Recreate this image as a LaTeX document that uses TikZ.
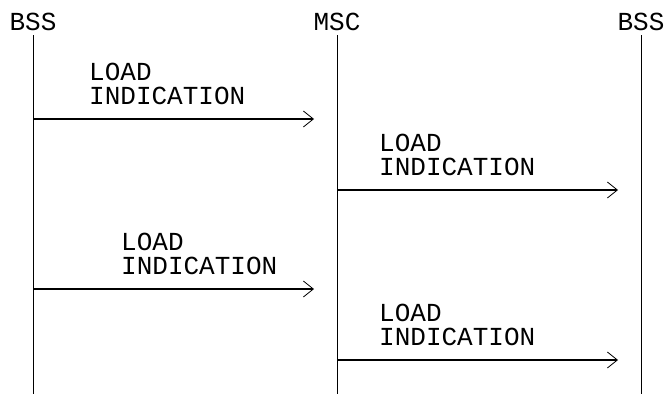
\documentclass[tikz,border=0pt]{standalone}
\usepackage{fontspec}
\setmonofont{Liberation Mono}
\usetikzlibrary{positioning,calc,arrows.meta}
\tikzset{
  lbl/.style={font=\ttfamily\fontsize{26}{24}\selectfont, inner sep=0pt},
  life/.style={line width=0.8pt},
  msg/.style={line width=1.6pt, -{Straight Barb[length=10pt,width=16pt,line width=0.8pt]}},
}
\newcommand{\mnode}[3]{\node [lbl, anchor=south west, align=left] (#1) at (#2) {#3}}

\begin{document}
\begin{tikzpicture}[x=1pt,y=-1pt]
\useasboundingbox (0,0) rectangle (666,394);

% lifeline heads
\node [lbl] (BSSA) at (33,22) {BSS};
\node [lbl] (MSC) at (337,22) {MSC};
\node [lbl] (BSSB) at (641,22) {BSS};

\coordinate (BSSAend) at (33,394);
\coordinate (MSCend) at (337,394);
\coordinate (BSSBend) at (641,394);

\draw[life] (BSSA.south |- 0,35) -- (BSSAend);
\draw[life] (MSC.south |- 0,35) -- (MSCend);
\draw[life] (BSSB.south |- 0,35) -- (BSSBend);

% messages
\coordinate (M1s) at (33,119);  \coordinate (M1e) at (314,119);
\coordinate (M2s) at (337,190); \coordinate (M2e) at (618,190);
\coordinate (M3s) at (33,289);  \coordinate (M3e) at (314,289);
\coordinate (M4s) at (337,360); \coordinate (M4e) at (618,360);

\draw[msg] (M1s) -- (M1e);
\draw[msg] (M2s) -- (M2e);
\draw[msg] (M3s) -- (M3e);
\draw[msg] (M4s) -- (M4e);

\mnode{L1}{89,105}{LOAD\\INDICATION};
\mnode{L2}{379,176}{LOAD\\INDICATION};
\mnode{L3}{121,275}{LOAD\\INDICATION};
\mnode{L4}{379,346}{LOAD\\INDICATION};

\end{tikzpicture}
\end{document}
